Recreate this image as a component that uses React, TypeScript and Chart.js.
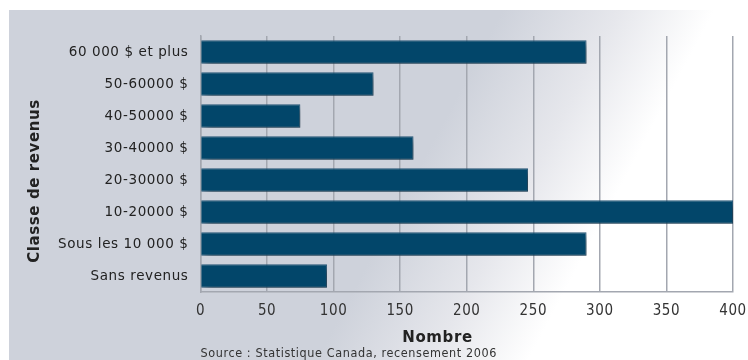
import React, { useEffect, useRef } from "react";
import { Chart, registerables } from "chart.js";

Chart.register(...registerables);

const categories = [
  "60 000 $ et plus",
  "50-60000 $",
  "40-50000 $",
  "30-40000 $",
  "20-30000 $",
  "10-20000 $",
  "Sous les 10 000 $",
  "Sans revenus",
];
const values = [290, 130, 75, 160, 246, 400, 290, 95];
const xMin = 0;
const xMax = 400;
const xStep = 50;
const xTitle = "Nombre";
const yTitle = "Classe de revenus";
const sourceText = "Source : Statistique Canada, recensement 2006";

const W = 740;
const H = 352;

const bgPlugin = {
  id: "bgPanel",
  beforeUpdate(chart: any) {
    chart.ctx.letterSpacing = "0.6px";
  },
  beforeDraw(chart: any) {
    const ctx = chart.ctx;
    ctx.save();
    const g = ctx.createLinearGradient(495, 2, 660, 90);
    g.addColorStop(0, "#ced2db");
    g.addColorStop(0.55, "#e6e7ec");
    g.addColorStop(1, "#ffffff");
    ctx.fillStyle = g;
    ctx.fillRect(1, 2, W - 1, H - 2);
    ctx.restore();
    ctx.letterSpacing = "0.6px";
  },
  beforeDatasetsDraw(chart: any) {
    const ctx = chart.ctx;
    ctx.save();
    ctx.shadowColor = "rgba(0,0,0,0.38)";
    ctx.shadowBlur = 7;
    ctx.shadowOffsetX = 4;
    ctx.shadowOffsetY = 4;
  },
  afterDatasetsDraw(chart: any) {
    chart.ctx.restore();
  },
  afterDraw(chart: any) {
    const ctx = chart.ctx;
    const x = chart.scales.x;
    const area = chart.chartArea;
    ctx.save();
    ctx.letterSpacing = "0.6px";
    ctx.fillStyle = "#222";
    ctx.textBaseline = "middle";
    ctx.textAlign = "center";
    ctx.font = "bold 15px 'DejaVu Sans'";
    ctx.fillText(xTitle, x.getPixelForValue(178), area.bottom + 46);
    ctx.font = "12.5px 'DejaVu Sans Condensed', 'DejaVu Sans'";
    ctx.textAlign = "left";
    ctx.fillStyle = "#333";
    ctx.fillText(sourceText, area.left, area.bottom + 62);
    ctx.translate(27, (area.top + area.bottom) / 2 + 17);
    ctx.rotate(-Math.PI / 2);
    ctx.textAlign = "center";
    ctx.fillStyle = "#222";
    ctx.font = "bold 15px 'DejaVu Sans'";
    ctx.fillText(yTitle, 0, 0);
    ctx.restore();
  },
};

export default function App() {
  const ref = useRef<HTMLCanvasElement>(null);
  useEffect(() => {
    document.body.style.marginRight = "0px";
    if (!ref.current) return;
    const chart = new Chart(ref.current, {
      type: "bar",
      data: {
        labels: categories,
        datasets: [
          {
            data: values,
            backgroundColor: "#02466a",
            borderColor: "#2d5f80",
            borderWidth: 1,
            barPercentage: 0.73,
            categoryPercentage: 1,
          },
        ],
      },
      options: {
        indexAxis: "y",
        animation: false,
        responsive: false,
        devicePixelRatio: 1,
        layout: { padding: { top: 28, right: 15, bottom: 38, left: 0 } },
        plugins: {
          legend: { display: false },
          tooltip: { enabled: false },
        },
        scales: {
          x: {
            min: xMin,
            max: xMax,
            ticks: {
              stepSize: xStep,
              color: "#333",
              padding: 10,
              font: { family: "'DejaVu Sans Condensed', 'DejaVu Sans'", size: 15 },
            },
            grid: {
              color: "#a3a7b0",
              lineWidth: 1.5,
              drawTicks: false,
            },
            border: { display: true, color: "#a3a7b0", width: 1.5 },
            afterFit(scale: any) {
              scale.height = 30;
              scale.paddingLeft = 0;
              scale.paddingRight = 0;
            },
          },
          y: {
            ticks: {
              color: "#222",
              padding: 12,
              font: { family: "'DejaVu Sans'", size: 13.5 },
            },
            grid: { display: false, drawTicks: false },
            border: { display: true, color: "#a3a7b0", width: 1.5 },
            afterFit(scale: any) {
              scale.width = 192.5;
            },
          },
        },
      },
      plugins: [bgPlugin],
    });
    return () => chart.destroy();
  }, []);
  return (
    <div style={{ width: W, height: H }}>
      <canvas ref={ref} width={W} height={H} style={{ display: "block" }} />
    </div>
  );
}
